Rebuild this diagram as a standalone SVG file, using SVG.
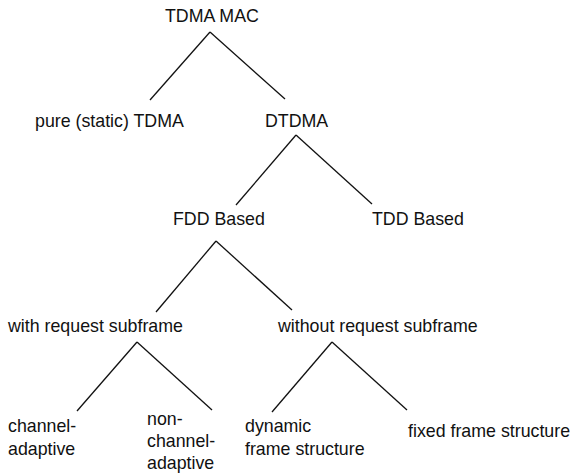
<svg xmlns="http://www.w3.org/2000/svg" width="571" height="474" viewBox="0 0 571 474">
<style>
text{font-family:"Liberation Sans",Arial,sans-serif;font-size:17.8px;fill:#111}
.c line{stroke:#111;stroke-width:1.3}
</style>
<rect width="571" height="474" fill="#fff"/>
<g class="c" id="connectors">
<line x1="210" y1="32" x2="150" y2="100"/>
<line x1="210" y1="32" x2="285" y2="99"/>
<line x1="296" y1="135" x2="236" y2="205"/>
<line x1="296" y1="135" x2="372" y2="204"/>
<line x1="216" y1="241" x2="156" y2="312"/>
<line x1="216" y1="241" x2="292" y2="310"/>
<line x1="137" y1="342" x2="77" y2="411"/>
<line x1="137" y1="342" x2="212" y2="410"/>
<line x1="332" y1="342" x2="272" y2="412"/>
<line x1="332" y1="342" x2="407" y2="410"/>
</g>
<g id="n-tdma-mac"><text x="165" y="22">TDMA MAC</text></g>
<g id="n-pure"><text x="35" y="127">pure (static) TDMA</text></g>
<g id="n-dtdma"><text x="265" y="127">DTDMA</text></g>
<g id="n-fdd"><text x="173" y="225">FDD Based</text></g>
<g id="n-tdd"><text x="372" y="225">TDD Based</text></g>
<g id="n-with"><text x="8" y="332">with request subframe</text></g>
<g id="n-without"><text x="278" y="332">without request subframe</text></g>
<g id="n-channel"><text x="8" y="432">channel-</text><text x="8" y="455">adaptive</text></g>
<g id="n-nonchannel"><text x="147" y="425">non-</text><text x="147" y="447">channel-</text><text x="147" y="469">adaptive</text></g>
<g id="n-dynamic"><text x="245" y="432">dynamic</text><text x="245" y="455">frame structure</text></g>
<g id="n-fixed"><text x="408" y="437">fixed frame structure</text></g>
</svg>
